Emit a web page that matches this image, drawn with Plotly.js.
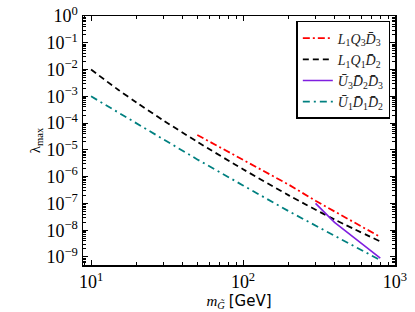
<!DOCTYPE html>
<html>
<head>
<meta charset="utf-8">
<script src="https://cdn.plot.ly/plotly-3.0.1.min.js"></script>
<style>html,body{margin:0;padding:0;background:#fff;}#chart{width:415px;height:312px;}</style>
</head>
<body>
<div id="chart"></div>
<script>
// Data
const seriesNames = [
  "<i>L</i><sub>1</sub><i>Q</i><sub>3</sub><i>D&#772;</i><sub>3</sub>",
  "<i>L</i><sub>1</sub><i>Q</i><sub>1</sub><i>D&#772;</i><sub>2</sub>",
  "<i>U&#772;</i><sub>3</sub><i>D&#772;</i><sub>2</sub><i>D&#772;</i><sub>3</sub>",
  "<i>U&#772;</i><sub>1</sub><i>D&#772;</i><sub>1</sub><i>D&#772;</i><sub>2</sub>"
];
const massL1Q3D3 = [50, 100, 200, 300, 800];
const lamL1Q3D3  = [3.6e-5, 4.2e-6, 5.0e-7, 1.25e-7, 5.6e-9];
const massL1Q1D2 = [10, 15, 20, 30, 50, 100, 200, 400, 800];
const lamL1Q1D2  = [1e-2, 1.8e-3, 5.8e-4, 1.25e-4, 2.0e-5, 1.9e-6, 2.0e-7, 2.5e-8, 3.8e-9];
const massU3D2D3 = [300, 330, 400, 800];
const lamU3D2D3  = [1e-7, 5.8e-8, 1.95e-8, 9e-10];
const massU1D1D2 = [10, 20, 34, 50, 100, 200, 400, 800];
const lamU1D1D2  = [1e-3, 9.8e-5, 1.6e-5, 4.4e-6, 4.7e-7, 5.1e-8, 6.2e-9, 7.6e-10];

const xTickVals = [10, 100, 1000];
const xTickText = ["10<sup>1</sup>", "10<sup>2</sup>", "10<sup>3</sup>"];
const yTickVals = [1e0,1e-1,1e-2,1e-3,1e-4,1e-5,1e-6,1e-7,1e-8,1e-9];
const yTickText = ["10<sup>0</sup>","10<sup>−1</sup>","10<sup>−2</sup>","10<sup>−3</sup>","10<sup>−4</sup>","10<sup>−5</sup>","10<sup>−6</sup>","10<sup>−7</sup>","10<sup>−8</sup>","10<sup>−9</sup>"];

function minorVals(lo, hi) {
  const v = [];
  for (let e = lo; e < hi; e++) for (let k = 2; k <= 9; k++) v.push(k * Math.pow(10, e));
  return v;
}

const serif = "Liberation Serif, DejaVu Serif, serif";
const traces = [
  {x: massL1Q3D3, y: lamL1Q3D3, name: seriesNames[0], mode: "lines",
   line: {color: "#ff0000", width: 1.8, dash: "7px,3px,2px,3px"}},
  {x: massL1Q1D2, y: lamL1Q1D2, name: seriesNames[1], mode: "lines",
   line: {color: "#000000", width: 1.8, dash: "6px,4px", shape: "spline", smoothing: 0.8}},
  {x: massU3D2D3, y: lamU3D2D3, name: seriesNames[2], mode: "lines",
   line: {color: "#7f1fe0", width: 1.6}},
  {x: massU1D1D2, y: lamU1D1D2, name: seriesNames[3], mode: "lines",
   line: {color: "#008080", width: 1.8, dash: "7px,4px,2px,4px"}}
];

const axisCommon = {
  type: "log", showgrid: false, zeroline: false,
  showline: true, linecolor: "#000", linewidth: 1.5, mirror: "ticks",
  ticks: "inside", ticklen: 5, tickwidth: 1, tickcolor: "#000",
  tickmode: "array", tickfont: {family: serif, size: 18, color: "#000"}
};

const layout = {
  width: 415, height: 312,
  margin: {l: 83, r: 20, t: 16, b: 47},
  paper_bgcolor: "#fff", plot_bgcolor: "#fff",
  showlegend: true,
  legend: {x: 0.985, xanchor: "right", y: 0.98, yanchor: "top",
           bordercolor: "#000", borderwidth: 1.5, bgcolor: "#fff",
           font: {family: serif, size: 14, color: "#222"}, tracegroupgap: 0},
  xaxis: Object.assign({}, axisCommon, {
    range: [0.947, 3.0], tickvals: xTickVals, ticktext: xTickText,
    minor: {tickmode: "array", tickvals: minorVals(0, 3), ticks: "inside", ticklen: 3, tickcolor: "#000", showgrid: false},
    title: {text: "<i>m</i><sub><i>G&#771;</i></sub> <span style=\"font-family:DejaVu Sans\">[GeV]</span>",
            font: {family: serif, size: 15, color: "#000"}, standoff: 2}
  }),
  yaxis: Object.assign({}, axisCommon, {
    range: [-9.3, 0], tickvals: yTickVals, ticktext: yTickText,
    minor: {tickmode: "array", tickvals: minorVals(-10, 0), ticks: "inside", ticklen: 3, tickcolor: "#000", showgrid: false},
    title: {text: "λ<sub>max</sub>", font: {family: serif, size: 15, color: "#000"}, standoff: 2}
  })
};

Plotly.newPlot("chart", traces, layout, {displayModeBar: false, staticPlot: true});
</script>
</body>
</html>
